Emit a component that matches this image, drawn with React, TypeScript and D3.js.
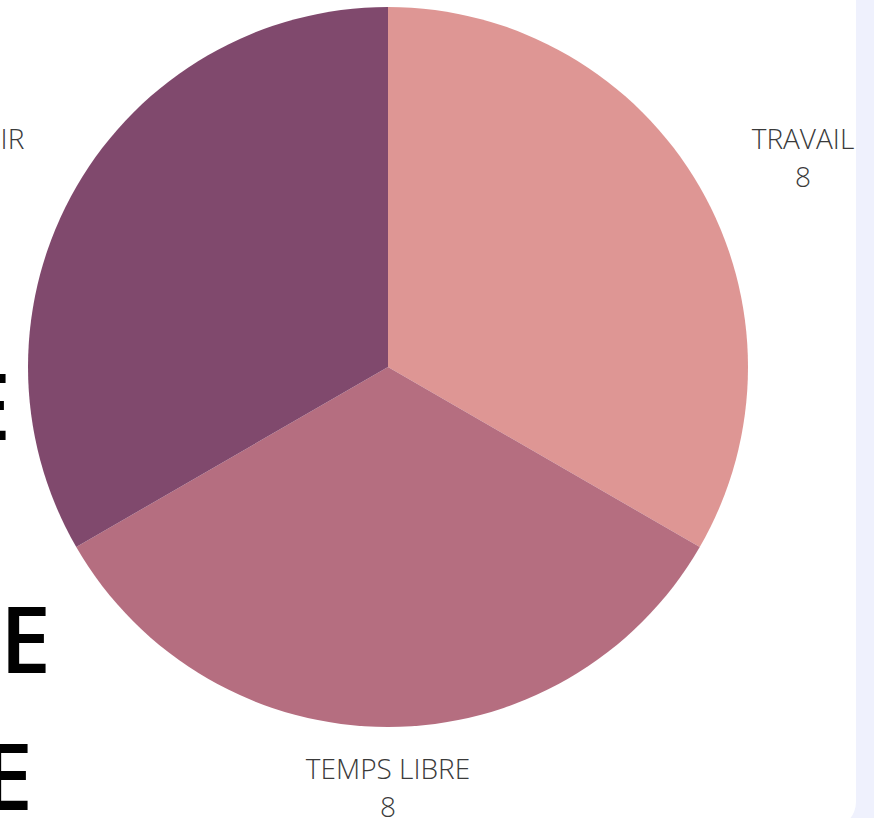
import React, { useEffect, useRef } from "react";
import * as d3 from "d3";

const categories = ["TRAVAIL", "TEMPS LIBRE", "DORMIR"];
const hours = [8, 8, 8];
const colors = ["#de9694", "#b56e80", "#80496d"];

// big title letters cut off at the left edge
const titleLetters = ["E", "E", "E"];
const titleRight = [11, 51, 33];
const titleBaseline = [440, 673, 810];

const W = 874;
const H = 818;

export default function App() {
  const ref = useRef<SVGSVGElement>(null);

  useEffect(() => {
    const svg = d3.select(ref.current);
    svg.selectAll("*").remove();

    svg.append("rect")
      .attr("width", W)
      .attr("height", H)
      .attr("fill", "#eff1fd");

    svg.append("rect")
      .attr("x", -30)
      .attr("y", -30)
      .attr("width", 886)
      .attr("height", 858)
      .attr("rx", 26)
      .attr("fill", "#ffffff");

    svg.selectAll(".title")
      .data(titleLetters)
      .enter()
      .append("text")
      .attr("class", "title")
      .attr("x", (d, i) => titleRight[i])
      .attr("y", (d, i) => titleBaseline[i])
      .attr("text-anchor", "end")
      .attr("font-family", "'Open Sans', sans-serif")
      .attr("font-weight", 600)
      .attr("font-size", 92)
      .attr("fill", "#000")
      .text(d => d);

    const cx = 388;
    const cy = 367;
    const r = 360;
    const labelR = 420;

    const data = categories.map((c, i) => ({ name: c, value: hours[i], color: colors[i] }));
    const pie = d3.pie<any>().sort(null).value(d => d.value);
    const arc = d3.arc<any>().innerRadius(0).outerRadius(r);

    const g = svg.append("g").attr("transform", `translate(${cx},${cy})`);
    const arcs = pie(data);

    g.selectAll("path")
      .data(arcs)
      .enter()
      .append("path")
      .attr("d", arc)
      .attr("fill", d => d.data.color);

    arcs.forEach(a => {
      const mid = (a.startAngle + a.endAngle) / 2;
      const px = Math.sin(mid) * labelR;
      const py = -Math.cos(mid) * labelR;
      const lab = g.append("g");
      const t1 = lab.append("text")
        .attr("text-anchor", "middle")
        .attr("y", py - 8.5)
        .attr("font-family", "'Open Sans', sans-serif")
        .attr("font-weight", 300)
        .attr("font-size", 28)
        .attr("fill", "#3a3a3a")
        .text(a.data.name);
      lab.append("text")
        .attr("text-anchor", "middle")
        .attr("y", py + 30)
        .attr("font-family", "'Open Sans', sans-serif")
        .attr("font-weight", 300)
        .attr("font-size", 28)
        .attr("fill", "#3a3a3a")
        .text(a.data.value);
      const w = (t1.node() as SVGTextElement).getComputedTextLength();
      const s = Math.abs(Math.sin(mid)) < 0.01 ? 0 : Math.sign(Math.sin(mid));
      lab.attr("transform", `translate(${px + s * w / 2},0)`);
    });
  }, []);

  return (
    <div style={{ position: "absolute", left: 0, top: 0 }}>
      <svg ref={ref} width={W} height={H} style={{ display: "block" }}></svg>
    </div>
  );
}
